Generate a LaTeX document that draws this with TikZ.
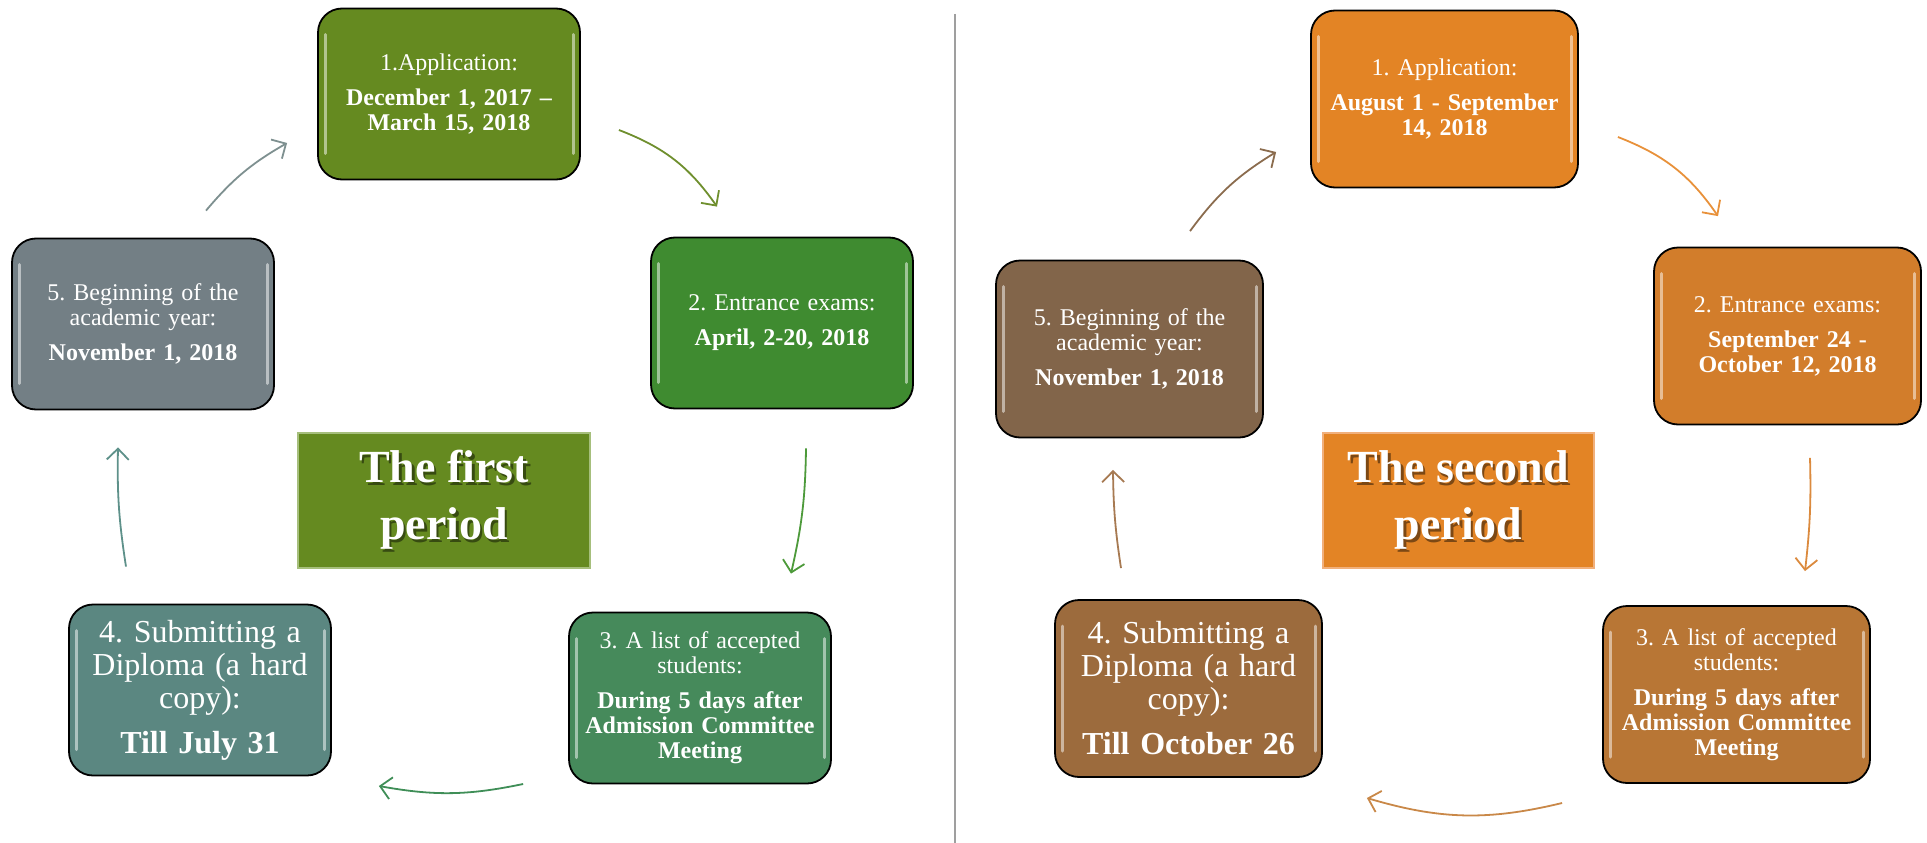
\documentclass[tikz,border=0pt]{standalone}
\usepackage{fontspec}
\setmainfont{Liberation Serif}
\usetikzlibrary{arrows.meta}
\frenchspacing

\definecolor{gA}{HTML}{658A20}
\definecolor{gB}{HTML}{3F8B30}
\definecolor{gC}{HTML}{468A5B}
\definecolor{gD}{HTML}{5B8781}
\definecolor{gE}{HTML}{737F85}
\definecolor{gRim}{HTML}{A6BF7C}
\definecolor{oA}{HTML}{E38425}
\definecolor{oB}{HTML}{D27D2B}
\definecolor{oC}{HTML}{B87635}
\definecolor{oD}{HTML}{9C6B3D}
\definecolor{oE}{HTML}{82654A}
\definecolor{oRim}{HTML}{F1B07C}

\tikzset{
  gloss/.style={path picture={
    \draw[white, opacity=.5, line width=3pt, line cap=round]
      ([shift={(7pt,-26pt)}]path picture bounding box.north west)
        -- ([shift={(7pt,26pt)}]path picture bounding box.south west)
      ([shift={(-7pt,-26pt)}]path picture bounding box.north east)
        -- ([shift={(-7pt,26pt)}]path picture bounding box.south east);
  }},
  stage/.style={draw=black, line width=1.8pt, rounded corners=24pt,
    minimum width=262pt, minimum height=171pt, inner sep=0pt,
    text width=252pt, align=center, text=white,
    font=\fontsize{24}{25}\selectfont, gloss},
  wide/.style={minimum width=267pt, minimum height=177pt},
  big/.style={font=\fontsize{32}{33}\selectfont},
  period/.style={line width=2pt, minimum height=135pt},
  ptext/.style={align=center, text=white, font=\fontsize{46}{57}\selectfont\bfseries},
  pshade/.style={ptext, text=black, opacity=.45},
  cyc/.style={line width=1.8pt, -{Straight Barb[length=11pt,width=22pt]}}
}

\begin{document}
\begin{tikzpicture}[x=1pt,y=1pt]
  \useasboundingbox (0,0) rectangle (1927,-843);

  % divider
  \draw[gray!75, line width=1.3pt] (955,-14) -- (955,-843);

  % first period
  \node[stage, fill=gA] (p1) at (449,-94)
    {1.Application:\\[10pt]\textbf{December 1, 2017 --\\March 15, 2018}};
  \node[stage, fill=gB] (p2) at (782,-323)
    {2. Entrance exams:\\[10pt]\textbf{April, 2-20, 2018}};
  \node[stage, fill=gC] (p3) at (700,-698)
    {3. A list of accepted\\students:\\[10pt]\textbf{During 5 days after\\Admission Committee\\Meeting}};
  \node[stage, big, fill=gD] (p4) at (200,-690)
    {4. Submitting a\\Diploma (a hard\\copy):\\[12pt]\textbf{Till July 31}};
  \node[stage, fill=gE] (p5) at (143,-324)
    {5. Beginning of the\\academic year:\\[10pt]\textbf{November 1, 2018}};

  \node[period, fill=gA, draw=gRim, minimum width=292pt] (t1) at (444,-500) {};
  \node[pshade] at ([shift={(2.5,-3)}]t1) {The first\\period};
  \node[ptext] (t1x) at (t1) {The first\\period};

  \draw[cyc, color={rgb,255:red,126;green,144;blue,144}]
    ([shift={(63,27)}]p5.north) to[bend left=10] ([shift={(-30,-49)}]p1.west);
  \draw[cyc, color={rgb,255:red,111;green,143;blue,46}]
    ([shift={(38,-36)}]p1.east) to[bend left=17] ([shift={(-65,30)}]p2.north);
  \draw[cyc, color={rgb,255:red,77;green,154;blue,59}]
    ([shift={(24,-39)}]p2.south) to[bend left=6] ([shift={(91,38)}]p3.north);
  \draw[cyc, color={rgb,255:red,63;green,142;blue,87}]
    ([shift={(-45,-86)}]p3.west) to[bend left=11] ([shift={(47,-96)}]p4.east);
  \draw[cyc, color={rgb,255:red,94;green,145;blue,138}]
    ([shift={(-74,37)}]p4.north) to[bend left=5] ([shift={(-25,-37)}]p5.south);

  % second period
  \node[stage, wide, fill=oA] (q1) at (1444.5,-99)
    {1. Application:\\[10pt]\textbf{August 1 - September\\14, 2018}};
  \node[stage, wide, fill=oB] (q2) at (1787.5,-336)
    {2. Entrance exams:\\[10pt]\textbf{September 24 -\\October 12, 2018}};
  \node[stage, wide, fill=oC] (q3) at (1736.5,-694.5)
    {3. A list of accepted\\students:\\[10pt]\textbf{During 5 days after\\Admission Committee\\Meeting}};
  \node[stage, wide, big, fill=oD] (q4) at (1188.5,-688.5)
    {4. Submitting a\\Diploma (a hard\\copy):\\[12pt]\textbf{Till October 26}};
  \node[stage, wide, fill=oE] (q5) at (1129.5,-349)
    {5. Beginning of the\\academic year:\\[10pt]\textbf{November 1, 2018}};

  \node[period, fill=oA, draw=oRim, minimum width=271pt] (t2) at (1458.5,-500) {};
  \node[pshade] at ([shift={(2.5,-3)}]t2) {The second\\period};
  \node[ptext] (t2x) at (t2) {The second\\period};

  \draw[cyc, color={rgb,255:red,139;green,108;blue,78}]
    ([shift={(60.5,28.5)}]q5.north) to[bend left=11] ([shift={(-34,-53)}]q1.west);
  \draw[cyc, color={rgb,255:red,232;green,145;blue,58}]
    ([shift={(39,-38)}]q1.east) to[bend left=17] ([shift={(-69.5,30.5)}]q2.north);
  \draw[cyc, color={rgb,255:red,219;green,138;blue,62}]
    ([shift={(22.5,-32.5)}]q2.south) to[bend left=4] ([shift={(68.5,34)}]q3.north);
  \draw[cyc, color={rgb,255:red,201;green,136;blue,72}]
    ([shift={(-40,-108.5)}]q3.west) to[bend left=15] ([shift={(44,-109.5)}]q4.east);
  \draw[cyc, color={rgb,255:red,167;green,122;blue,82}]
    ([shift={(-67.5,31)}]q4.north) to[bend left=4] ([shift={(-16.5,-31.5)}]q5.south);
\end{tikzpicture}
\end{document}
